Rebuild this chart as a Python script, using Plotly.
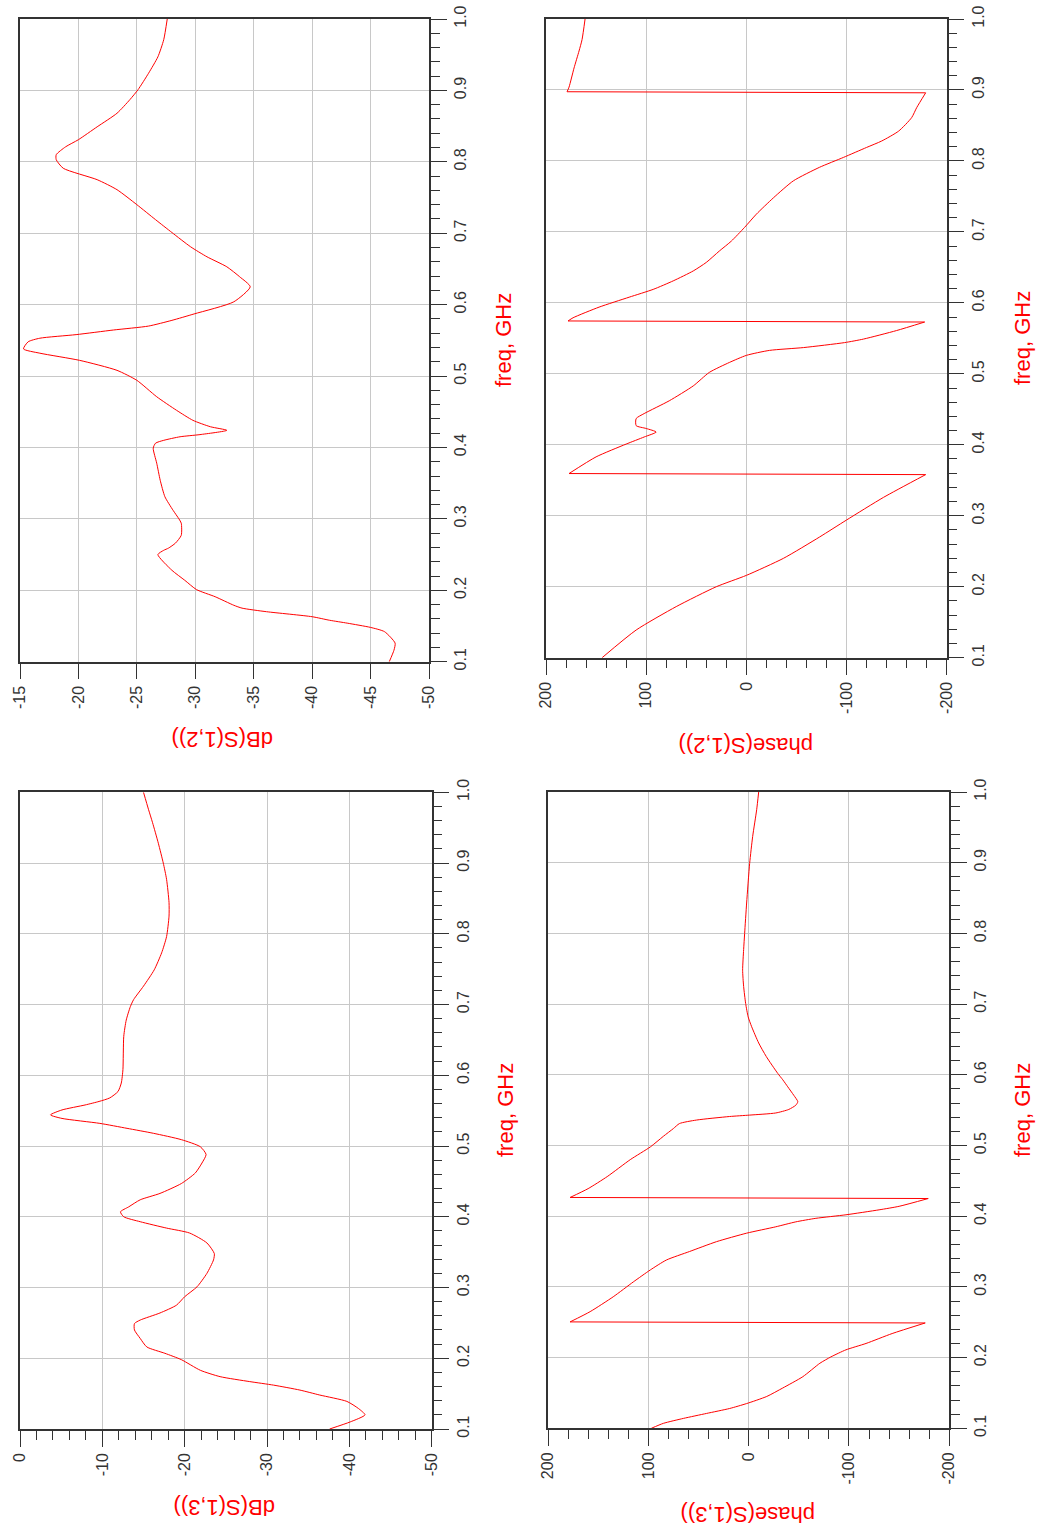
import plotly.graph_objects as go

W, H = 1042, 1539

# ---------------- data ----------------
# dB(S(1,2))
f_db12 = [0.100, 0.116, 0.126, 0.142, 0.148, 0.154, 0.158, 0.163, 0.170, 0.175, 0.179, 0.191,
          0.201, 0.214, 0.228, 0.250, 0.256, 0.259, 0.266, 0.277, 0.294, 0.300, 0.312, 0.331,
          0.354, 0.378, 0.399, 0.406, 0.410, 0.415, 0.418, 0.424, 0.429, 0.438, 0.452, 0.471,
          0.494, 0.508, 0.522, 0.532, 0.538, 0.548, 0.553, 0.558, 0.5645, 0.570, 0.578, 0.587,
          0.604, 0.625, 0.639, 0.653, 0.667, 0.681, 0.701, 0.719, 0.740, 0.761, 0.775, 0.791,
          0.803, 0.810, 0.821, 0.831, 0.849, 0.868, 0.887, 0.901, 0.924, 0.947, 0.971, 1.000]
db12 = [-46.6, -47.0, -47.1, -46.2, -45.0, -43.0, -41.5, -40.0, -36.1, -34.0, -33.3, -31.7,
        -30.1, -29.1, -28.0, -26.8, -27.3, -27.7, -28.3, -28.8, -28.8, -28.6, -28.1, -27.4,
        -27.0, -26.7, -26.4, -26.6, -27.3, -28.7, -30.4, -32.7, -31.3, -29.8, -28.4, -26.7,
        -25.0, -23.3, -20.1, -16.7, -15.3, -15.7, -16.7, -19.8, -23.0, -26.0, -28.0, -29.9,
        -33.3, -34.7, -33.8, -32.7, -31.0, -29.6, -28.0, -26.6, -25.0, -23.3, -21.6, -18.7,
        -18.1, -18.1, -18.9, -20.0, -21.6, -23.3, -24.4, -25.1, -26.0, -26.8, -27.3, -27.6]

# phase(S(1,2))
f_ph12 = [0.100, 0.139, 0.172, 0.200, 0.216, 0.240, 0.270, 0.294, 0.326, 0.358, 0.3595,
          0.383, 0.401, 0.411, 0.418, 0.423, 0.427, 0.437, 0.444, 0.462, 0.483, 0.502, 0.516,
          0.526, 0.533, 0.537, 0.544, 0.549, 0.561, 0.573, 0.5745, 0.579, 0.594, 0.608, 0.619,
          0.631, 0.645, 0.657, 0.673, 0.687, 0.706, 0.725, 0.748, 0.772, 0.791, 0.805, 0.819,
          0.828, 0.842, 0.861, 0.875, 0.896, 0.8975, 0.904, 0.931, 0.955, 0.971, 1.000]
ph12 = [144, 110, 70, 30, 0, -37, -73, -100, -137, -179, 177,
        150, 120, 102, 90, 100, 110, 110, 102, 77, 53, 37, 17,
        0, -23, -57, -98, -117, -150, -178, 178, 173, 147, 117, 93,
        73, 53, 40, 27, 15, 2, -10, -27, -47, -73, -97, -120,
        -135, -152, -165, -170, -179, 179, 177, 172, 167, 164, 161]

# dB(S(1,3))
f_db13 = [0.100, 0.110, 0.120, 0.129, 0.139, 0.148, 0.155, 0.162, 0.167, 0.174, 0.183, 0.198,
          0.207, 0.216, 0.228, 0.240, 0.249, 0.254, 0.264, 0.275, 0.287, 0.301, 0.320, 0.339,
          0.348, 0.363, 0.377, 0.384, 0.393, 0.400, 0.407, 0.414, 0.424, 0.433, 0.447, 0.462,
          0.476, 0.488, 0.499, 0.509, 0.518, 0.525, 0.532, 0.539, 0.544, 0.551, 0.558, 0.563,
          0.568, 0.577, 0.589, 0.608, 0.655, 0.678, 0.697, 0.707, 0.726, 0.749, 0.773, 0.796,
          0.825, 0.844, 0.877, 0.900, 0.928, 0.957, 0.976, 1.000]
db13 = [-37.6, -40.1, -41.9, -41.1, -39.7, -36.4, -34.0, -30.8, -27.9, -24.3, -21.9, -19.6,
        -17.6, -15.4, -14.6, -13.9, -13.9, -14.6, -17.0, -19.0, -20.0, -21.5, -22.7, -23.5,
        -23.6, -22.7, -20.6, -17.8, -14.6, -12.6, -12.2, -13.2, -14.6, -17.0, -19.6, -21.3,
        -22.1, -22.6, -21.9, -19.6, -16.2, -13.0, -9.7, -5.1, -3.7, -5.1, -7.9, -9.6,
        -10.9, -11.9, -12.3, -12.5, -12.6, -12.9, -13.4, -13.8, -15.0, -16.3, -17.2, -17.8,
        -18.1, -18.1, -17.8, -17.4, -16.8, -16.1, -15.6, -15.0]

# phase(S(1,3))
f_ph13 = [0.100, 0.107, 0.114, 0.121, 0.128, 0.135, 0.145, 0.157, 0.173, 0.192, 0.201,
          0.211, 0.220, 0.234, 0.249, 0.2505, 0.265, 0.286, 0.307, 0.324, 0.338, 0.350,
          0.364, 0.376, 0.385, 0.392, 0.397, 0.402, 0.409, 0.414, 0.425, 0.4265, 0.439,
          0.456, 0.480, 0.498, 0.513, 0.524, 0.531, 0.536, 0.541, 0.543, 0.546, 0.551,
          0.557, 0.562, 0.571, 0.583, 0.593, 0.602, 0.626, 0.645, 0.668, 0.682, 0.701,
          0.725, 0.748, 0.777, 0.800, 0.843, 0.899, 0.937, 0.975, 1.000]
ph13 = [97, 85, 65, 42, 19, 2, -18, -34, -54, -71, -82,
        -97, -117, -143, -176, 178, 158, 135, 115, 98, 82, 59,
        32, 2, -27, -47, -67, -97, -130, -150, -179, 178, 160,
        141, 118, 98, 85, 75, 69, 52, 19, -1, -27, -40,
        -47, -49, -45, -39, -34, -29, -17.5, -10, -3, 0.5, 3,
        5, 6, 5, 4, 2, -1, -4, -8, -10]

# tick labels
ticks_db12 = [-15, -20, -25, -30, -35, -40, -45, -50]
ticks_db13 = [0, -10, -20, -30, -40, -50]
ticks_phase = [200, 100, 0, -100, -200]
ticks_freq = [0.1, 0.2, 0.3, 0.4, 0.5, 0.6, 0.7, 0.8, 0.9, 1.0]

value_axis_db12 = dict(range=[-15, -50], ticks=ticks_db12, minor=None)
value_axis_db13 = dict(range=[0, -50], ticks=ticks_db13, minor=2)
value_axis_phase = dict(range=[200, -200], ticks=ticks_phase, minor=20)

# ---------------- layout ----------------
RED = "#ff0000"
GRID = "#c8c8c8"
LINE = "#333333"
TICKFONT = dict(family="Liberation Sans, Arial, sans-serif", size=16, color="#333333")
LABELFONT = dict(family="Liberation Sans, Arial, sans-serif", size=22, color=RED)

panels = [
    dict(f=f_db12, v=db12, px=(20, 429), py=(19, 661.7), ax=value_axis_db12,
         label="dB(S(1,2))", lab_xy=(223, 740), freq_xy=(503, 340)),
    dict(f=f_ph12, v=ph12, px=(546, 946.7), py=(19, 657.7), ax=value_axis_phase,
         label="phase(S(1,2))", lab_xy=(746, 745), freq_xy=(1022, 338)),
    dict(f=f_db13, v=db13, px=(20, 431.7), py=(792.3, 1429), ax=value_axis_db13,
         label="dB(S(1,3))", lab_xy=(225, 1508), freq_xy=(505, 1110)),
    dict(f=f_ph13, v=ph13, px=(548, 949.3), py=(792, 1428.3), ax=value_axis_phase,
         label="phase(S(1,3))", lab_xy=(748, 1515), freq_xy=(1022, 1110)),
]


def segments(f, v):
    """Split a wrapped phase curve into smooth pieces and the wrap jumps."""
    pieces, jumps, start = [], [], 0
    for k in range(1, len(v)):
        if abs(v[k] - v[k - 1]) > 200:
            pieces.append((f[start:k], v[start:k]))
            jumps.append(([f[k - 1], f[k]], [v[k - 1], v[k]]))
            start = k
    pieces.append((f[start:], v[start:]))
    return pieces, jumps


fig = go.Figure()
annotations = []
for i, p in enumerate(panels, start=1):
    sfx = "" if i == 1 else str(i)
    pieces, jumps = segments(p["f"], p["v"])
    for (ff, vv) in pieces:
        fig.add_trace(go.Scatter(x=vv, y=ff, mode="lines",
                                 line=dict(color=RED, width=1, shape="spline", smoothing=0.6),
                                 xaxis="x" + sfx, yaxis="y" + sfx,
                                 showlegend=False, hoverinfo="skip"))
    for (ff, vv) in jumps:
        fig.add_trace(go.Scatter(x=vv, y=ff, mode="lines",
                                 line=dict(color=RED, width=1),
                                 xaxis="x" + sfx, yaxis="y" + sfx,
                                 showlegend=False, hoverinfo="skip"))
    ax = p["ax"]
    xa = dict(domain=[p["px"][0] / W, p["px"][1] / W], anchor="y" + sfx,
              range=ax["range"], tickmode="array", tickvals=ax["ticks"],
              ticktext=[str(t) for t in ax["ticks"]],
              ticks="outside", ticklen=16, tickwidth=1, tickcolor=LINE,
              tickangle=-90, tickfont=TICKFONT, automargin=False,
              showgrid=True, gridcolor=GRID, gridwidth=1,
              showline=True, mirror=True, linecolor=LINE, linewidth=1.5,
              zeroline=False, fixedrange=True)
    if ax["minor"]:
        xa["minor"] = dict(tickmode="linear", dtick=ax["minor"], tick0=0, ticks="outside",
                           ticklen=9, tickcolor=LINE, showgrid=False)
    ya = dict(domain=[1 - p["py"][1] / H, 1 - p["py"][0] / H], anchor="x" + sfx,
              side="right", range=[0.1, 1.0], tickmode="array", tickvals=ticks_freq,
              ticktext=["%.1f" % t for t in ticks_freq],
              ticks="outside", ticklen=16, tickwidth=1, tickcolor=LINE,
              tickangle=-90, tickfont=TICKFONT, automargin=False,
              showgrid=True, gridcolor=GRID, gridwidth=1,
              showline=True, mirror=True, linecolor=LINE, linewidth=1.5,
              zeroline=False, fixedrange=True,
              minor=dict(tickmode="linear", dtick=0.02, tick0=0.1, ticks="outside",
                         ticklen=9, tickcolor=LINE, showgrid=False))
    fig.update_layout(**{"xaxis" + sfx: xa, "yaxis" + sfx: ya})
    annotations.append(dict(text=p["label"], x=p["lab_xy"][0] / W, y=1 - p["lab_xy"][1] / H,
                            xref="paper", yref="paper", showarrow=False, textangle=180,
                            font=LABELFONT, xanchor="center", yanchor="middle"))
    annotations.append(dict(text="freq, GHz", x=p["freq_xy"][0] / W, y=1 - p["freq_xy"][1] / H,
                            xref="paper", yref="paper", showarrow=False, textangle=-90,
                            font=LABELFONT, xanchor="center", yanchor="middle"))

fig.update_layout(width=W, height=H, margin=dict(l=0, r=0, t=0, b=0, autoexpand=False),
                  paper_bgcolor="white", plot_bgcolor="white",
                  annotations=annotations)

fig.write_html("out.html", config={"displayModeBar": False})
